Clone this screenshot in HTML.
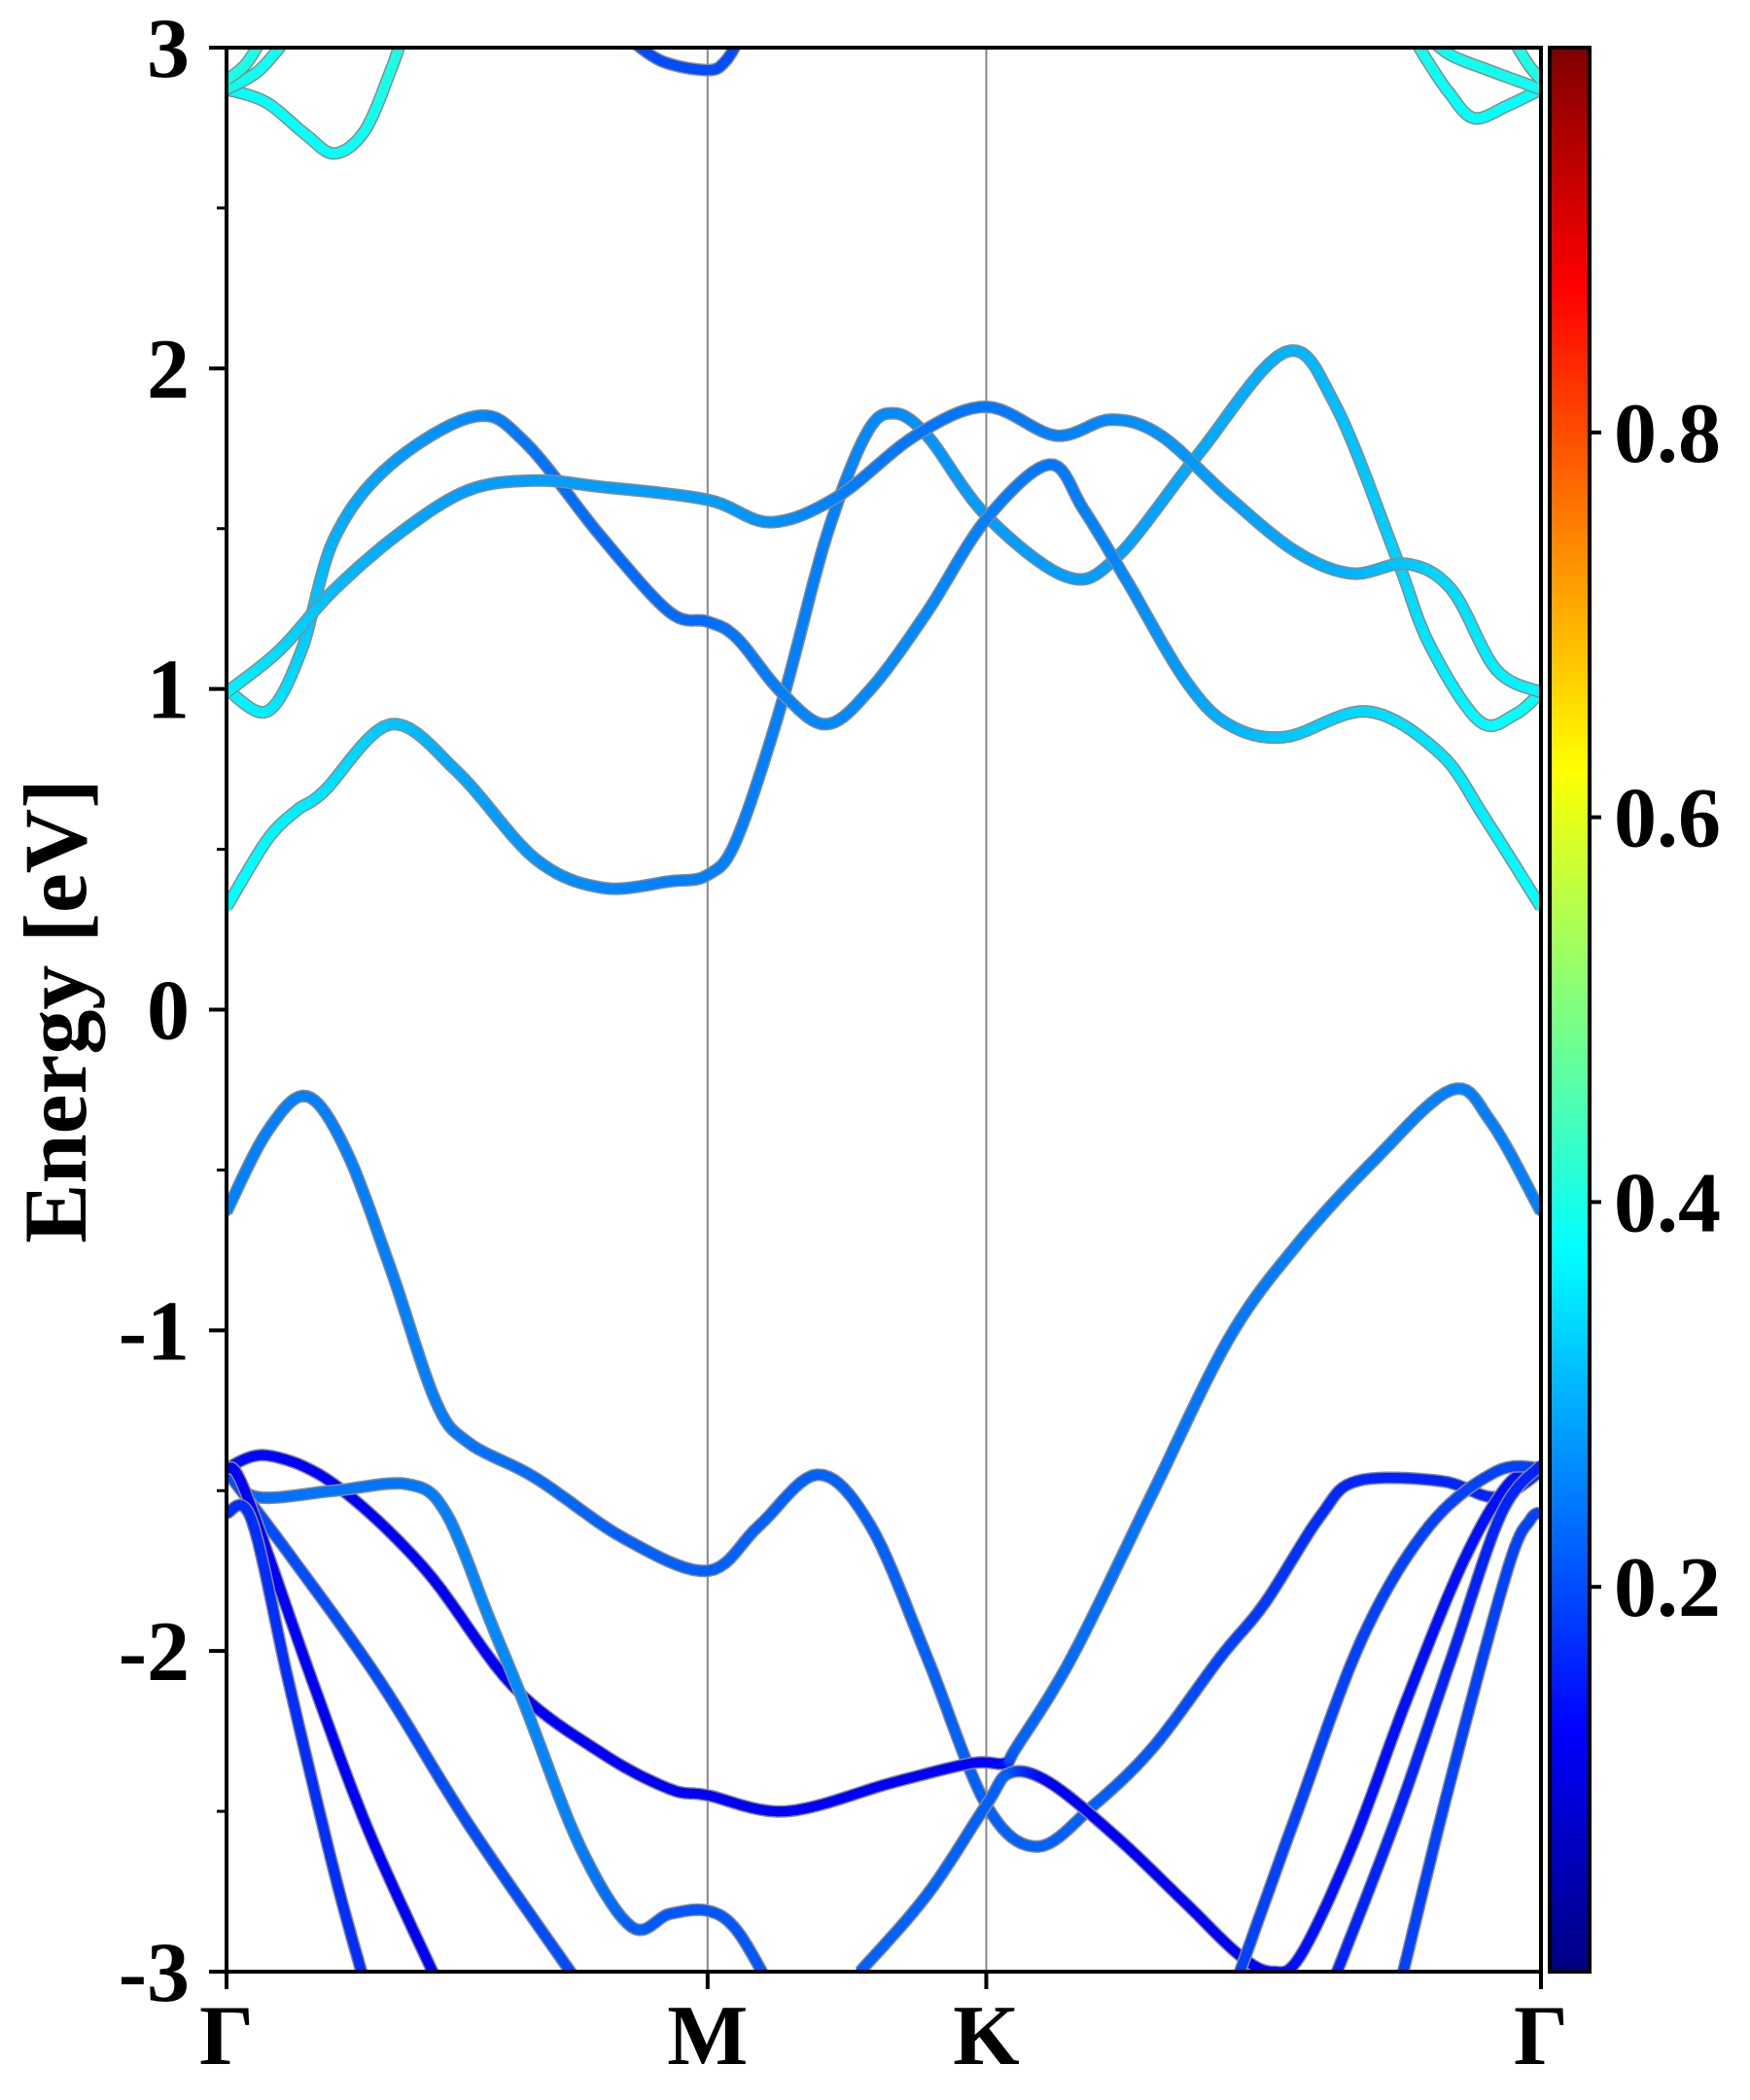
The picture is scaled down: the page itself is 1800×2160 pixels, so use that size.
<!DOCTYPE html>
<html><head><meta charset="utf-8">
<style>
html,body{margin:0;padding:0;background:#fff;}
svg{display:block;}
text{font-family:"Liberation Serif",serif;font-weight:bold;fill:#000;}
</style></head>
<body>
<svg id="chart" width="1800" height="2160" viewBox="0 0 1800 2160" xmlns="http://www.w3.org/2000/svg">
<defs>
<clipPath id="plotclip"><rect x="233" y="49" width="1352" height="1979"/></clipPath>
<linearGradient id="jet" x1="0" y1="1" x2="0" y2="0">
<stop offset="0" stop-color="#000080"/><stop offset="0.125" stop-color="#0000ff"/>
<stop offset="0.375" stop-color="#00ffff"/><stop offset="0.625" stop-color="#ffff00"/>
<stop offset="0.875" stop-color="#ff0000"/><stop offset="1" stop-color="#800000"/>
</linearGradient>
</defs>
<g id="grid"></g>
<g id="bands" clip-path="url(#plotclip)"></g>
<g id="axes"></g>
</svg>
<script>
// ---- data ----
const kLabels = ["Γ","M","K","Γ"];
const kTicks = [0, 0.366, 0.578, 1];
const yTicks = [-3,-2,-1,0,1,2,3];
const yMinor = [-2.5,-1.5,-0.5,0.5,1.5,2.5];
const cbTicks = [0.2,0.4,0.6,0.8];

const c1K=[0,0.031,0.053,0.074,0.125,0.176,0.235,0.286,0.337,0.366,0.388,0.422,0.456,0.486,0.507,0.533,0.578,0.639,0.677,0.737,0.805,0.843,0.890,0.915,0.953,0.980,1];
const c1E=[0.32,0.53,0.62,0.68,0.89,0.74,0.47,0.38,0.40,0.42,0.53,0.95,1.47,1.79,1.86,1.79,1.54,1.35,1.41,1.72,2.05,1.89,1.41,1.14,0.90,0.92,0.99];
const c1W=[0.38,0.37,0.36,0.35,0.32,0.29,0.27,0.26,0.25,0.25,0.25,0.25,0.25,0.26,0.26,0.27,0.28,0.28,0.28,0.29,0.30,0.31,0.33,0.35,0.37,0.38,0.38];

const c2K=[0,0.031,0.057,0.082,0.125,0.189,0.227,0.286,0.337,0.366,0.388,0.422,0.456,0.490,0.533,0.578,0.626,0.652,0.686,0.729,0.762,0.805,0.868,0.923,0.957,1];
const c2E=[1.0,0.93,1.12,1.47,1.70,1.85,1.77,1.47,1.24,1.21,1.16,0.99,0.89,1.0,1.24,1.53,1.70,1.56,1.33,1.03,0.89,0.85,0.93,0.80,0.60,0.32];
const c2W=[0.37,0.36,0.33,0.30,0.28,0.26,0.24,0.23,0.23,0.23,0.24,0.25,0.26,0.26,0.26,0.25,0.24,0.25,0.26,0.28,0.30,0.32,0.34,0.35,0.36,0.38];

const c3K=[0,0.040,0.082,0.133,0.184,0.235,0.286,0.366,0.414,0.465,0.524,0.578,0.631,0.673,0.711,0.762,0.813,0.856,0.898,0.932,0.966,1];
const c3E=[0.99,1.12,1.31,1.49,1.62,1.65,1.63,1.59,1.52,1.60,1.79,1.88,1.79,1.84,1.79,1.60,1.43,1.36,1.39,1.31,1.06,0.99];
const c3W=[0.37,0.34,0.31,0.29,0.28,0.28,0.28,0.28,0.27,0.25,0.24,0.24,0.25,0.26,0.27,0.28,0.29,0.30,0.32,0.34,0.36,0.37];

const t1K=[0,0.03,0.06,0.082,0.105,0.125,0.135]; const t1E=[2.87,2.83,2.73,2.67,2.74,2.93,3.05]; const t1W=[0.38,0.38,0.38,0.38,0.39,0.40,0.40];
const t2K=[0,0.025,0.05]; const t2E=[2.87,2.93,3.05]; const t2W=[0.39,0.39,0.39];
const t3K=[0,0.015,0.03]; const t3E=[2.90,2.95,3.05]; const t3W=[0.40,0.40,0.40];
const t4K=[1,0.975,0.949,0.93,0.915,0.90]; const t4E=[2.87,2.82,2.78,2.86,2.95,3.05]; const t4W=[0.38,0.38,0.38,0.38,0.39,0.39];
const t5K=[1,0.96,0.93,0.91]; const t5E=[2.87,2.93,2.98,3.05]; const t5W=[0.39,0.39,0.39,0.39];
const t6K=[1,0.99,0.975]; const t6E=[2.90,2.95,3.05]; const t6W=[0.40,0.40,0.40];
const t7K=[0.30,0.33,0.366,0.38,0.393]; const t7E=[3.05,2.96,2.93,2.96,3.05]; const t7W=[0.2,0.2,0.2,0.2,0.2];

const v1K=[0,0.031,0.061,0.091,0.125,0.159,0.184,0.235,0.303,0.366,0.405,0.450,0.490,0.533,0.578,0.617,0.660,0.705,0.756,0.790,0.832,0.860,0.924,0.966,1];
const v1E=[-0.63,-0.38,-0.27,-0.44,-0.81,-1.22,-1.35,-1.46,-1.65,-1.75,-1.61,-1.45,-1.61,-2.02,-2.48,-2.61,-2.48,-2.30,-2.02,-1.85,-1.58,-1.47,-1.47,-1.52,-1.44];
const v1W=[0.25,0.25,0.25,0.25,0.25,0.25,0.24,0.23,0.22,0.22,0.22,0.22,0.22,0.22,0.22,0.22,0.22,0.21,0.19,0.18,0.17,0.16,0.16,0.16,0.16];

const d1K=[0,0.031,0.082,0.150,0.218,0.286,0.337,0.366,0.426,0.507,0.567,0.592,0.601,0.643,0.703,0.762,0.813,0.873,0.932,0.962,1];
const d1E=[-1.43,-1.39,-1.48,-1.74,-2.11,-2.32,-2.43,-2.45,-2.50,-2.41,-2.35,-2.35,-2.30,-2.02,-1.52,-1.03,-0.74,-0.47,-0.25,-0.35,-0.63];
const d1W=[0.14,0.13,0.12,0.12,0.12,0.12,0.12,0.12,0.12,0.12,0.12,0.13,0.22,0.23,0.24,0.24,0.25,0.25,0.25,0.25,0.25];

const l1K=[0.482,0.533,0.578,0.596,0.626,0.677,0.728,0.771,0.796,0.817,0.856,0.898,0.941,0.975,1];
const l1E=[-3.0,-2.76,-2.48,-2.38,-2.41,-2.58,-2.78,-2.95,-3.0,-2.95,-2.61,-2.15,-1.72,-1.48,-1.43];
const l1W=[0.22,0.22,0.22,0.22,0.12,0.12,0.12,0.12,0.13,0.14,0.14,0.14,0.14,0.14,0.14];

const v3K=[0,0.023,0.082,0.138,0.167,0.201,0.227,0.269,0.308,0.337,0.366,0.388,0.414];
const v3E=[-1.44,-1.52,-1.50,-1.48,-1.57,-1.91,-2.17,-2.61,-2.86,-2.82,-2.81,-2.87,-3.05];
const v3W=[0.22,0.23,0.24,0.24,0.25,0.26,0.26,0.25,0.22,0.21,0.21,0.21,0.21];

const v4K=[0,0.048,0.116,0.184,0.265]; const v4E=[-1.44,-1.70,-2.09,-2.54,-3.02]; const v4W=[0.20,0.20,0.20,0.20,0.20];
const v5K=[0,0.014,0.065,0.108,0.159]; const v5E=[-1.43,-1.50,-2.09,-2.56,-3.02]; const v5W=[0.12,0.12,0.12,0.12,0.12];
const v6K=[0,0.019,0.048,0.082,0.104]; const v6E=[-1.57,-1.59,-2.11,-2.69,-3.02]; const v6W=[0.17,0.17,0.17,0.17,0.17];

const r1K=[0.771,0.813,0.864,0.915,0.966,1]; const r1E=[-3.0,-2.52,-1.96,-1.61,-1.44,-1.43]; const r1W=[0.19,0.19,0.19,0.19,0.19,0.19];
const r3K=[0.843,0.890,0.932,0.970,1]; const r3E=[-3.02,-2.52,-2.02,-1.57,-1.42]; const r3W=[0.16,0.16,0.16,0.16,0.16];
const r4K=[0.894,0.932,0.975,0.992,1]; const r4E=[-3.02,-2.39,-1.74,-1.59,-1.57]; const r4W=[0.19,0.19,0.19,0.19,0.19];

const bandNames=["band-c1","band-c2","band-c3","band-t1","band-t2","band-t3","band-t4","band-t5","band-t6","band-t7","band-v1","band-d1","band-l1","band-v3","band-v4","band-v5","band-v6","band-r1","band-r3","band-r4"];
const bandK=[c1K,c2K,c3K,t1K,t2K,t3K,t4K,t5K,t6K,t7K,v1K,d1K,l1K,v3K,v4K,v5K,v6K,r1K,r3K,r4K];
const bandE=[c1E,c2E,c3E,t1E,t2E,t3E,t4E,t5E,t6E,t7E,v1E,d1E,l1E,v3E,v4E,v5E,v6E,r1E,r3E,r4E];
const bandW=[c1W,c2W,c3W,t1W,t2W,t3W,t4W,t5W,t6W,t7W,v1W,d1W,l1W,v3W,v4W,v5W,v6W,r1W,r3W,r4W];

// ---- layout ----
const L=233,R=1585,T=49,B=2028, EMIN=-3, EMAX=3;
const xS=k=>L+k*(R-L);
const yS=e=>B-(e-EMIN)/(EMAX-EMIN)*(B-T);
const CBX=1594, CBW=41;
const cbY=v=>B-v*(B-T);
const NS="http://www.w3.org/2000/svg";
function mk(tag,attrs,parent){const el=document.createElementNS(NS,tag);for(const a in attrs)el.setAttribute(a,attrs[a]);parent.appendChild(el);return el;}
function jet(x){const c=v=>Math.round(255*Math.max(0,Math.min(1,v)));
 return `rgb(${c(1.5-Math.abs(4*x-3))},${c(1.5-Math.abs(4*x-2))},${c(1.5-Math.abs(4*x-1))})`;}

const grid=document.getElementById('grid');
kTicks.slice(1,3).forEach((k,i)=>{
 const ln=mk('line',{x1:xS(k),x2:xS(k),y1:T,y2:B,stroke:'#888',"stroke-width":2},grid);
 
 
});

// sample Catmull-Rom
function sample(K,E,W){
 const P=K.map((k,i)=>[xS(k),yS(E[i]),W[i]]);const out=[];const n=P.length;
 for(let i=0;i<n-1;i++){
  const p0=P[Math.max(0,i-1)],p1=P[i],p2=P[i+1],p3=P[Math.min(n-1,i+2)];
  for(let s=0;s<10;s++){const t=s/10,t2=t*t,t3=t2*t;
   const f=(a,b,c,d)=>0.5*((2*b)+(-a+c)*t+(2*a-5*b+4*c-d)*t2+(-a+3*b-3*c+d)*t3);
   out.push([f(p0[0],p1[0],p2[0],p3[0]),f(p0[1],p1[1],p2[1],p3[1]),p1[2]+(p2[2]-p1[2])*t]);}
 }
 out.push(P[n-1]);return out;
}
const bands=document.getElementById('bands');
bandK.forEach((K,bi)=>{
 const g=mk('g',{},bands);
 
 
 const pts=sample(K,bandE[bi],bandW[bi]);
 mk('polyline',{points:pts.map(p=>p[0].toFixed(1)+','+p[1].toFixed(1)).join(' '),fill:'none',stroke:'#8a8a8a',"stroke-width":13,"stroke-linejoin":'round'},g);
 for(let i=0;i<pts.length-1;i++){
  mk('line',{x1:pts[i][0].toFixed(1),y1:pts[i][1].toFixed(1),x2:pts[i+1][0].toFixed(1),y2:pts[i+1][1].toFixed(1),stroke:jet((pts[i][2]+pts[i+1][2])/2),"stroke-width":10,"stroke-linecap":'round'},g);
 }
});

// axes
const ax=document.getElementById('axes');
const frame=mk('rect',{x:L,y:T,width:R-L,height:B-T,fill:'none',stroke:'#000',"stroke-width":4},ax);


yTicks.forEach(v=>{
 mk('line',{x1:L-18,x2:L,y1:yS(v),y2:yS(v),stroke:'#000',"stroke-width":4},ax);
 const t=mk('text',{x:L-38,y:yS(v)+30,"text-anchor":'end',"font-size":88},ax);
 t.textContent=String(v);
 
 
});
yMinor.forEach(v=>{mk('line',{x1:L-10,x2:L,y1:yS(v),y2:yS(v),stroke:'#000',"stroke-width":3},ax);});
kTicks.forEach((k,i)=>{
 mk('line',{x1:xS(k),x2:xS(k),y1:B,y2:B+18,stroke:'#000',"stroke-width":4},ax);
 const t=mk('text',{x:xS(k),y:B+95,"text-anchor":'middle',"font-size":88},ax);
 t.textContent=kLabels[i];
 
 
});
const yt=mk('text',{x:0,y:0,"text-anchor":'middle',"font-size":92,transform:'translate(88,1040) rotate(-90)'},ax);
yt.textContent='Energy [eV]';



// colorbar
const cb=mk('g',{},ax);


mk('rect',{x:CBX,y:T,width:CBW,height:B-T,fill:'url(#jet)',stroke:'#000',"stroke-width":4},cb);
cbTicks.forEach(v=>{
 mk('line',{x1:CBX+CBW,x2:CBX+CBW+12,y1:cbY(v),y2:cbY(v),stroke:'#000',"stroke-width":4},cb);
 const t=mk('text',{x:CBX+CBW+25,y:cbY(v)+30,"font-size":88},cb);
 t.textContent=v.toFixed(1);
 
 
});
</script>
</body></html>
